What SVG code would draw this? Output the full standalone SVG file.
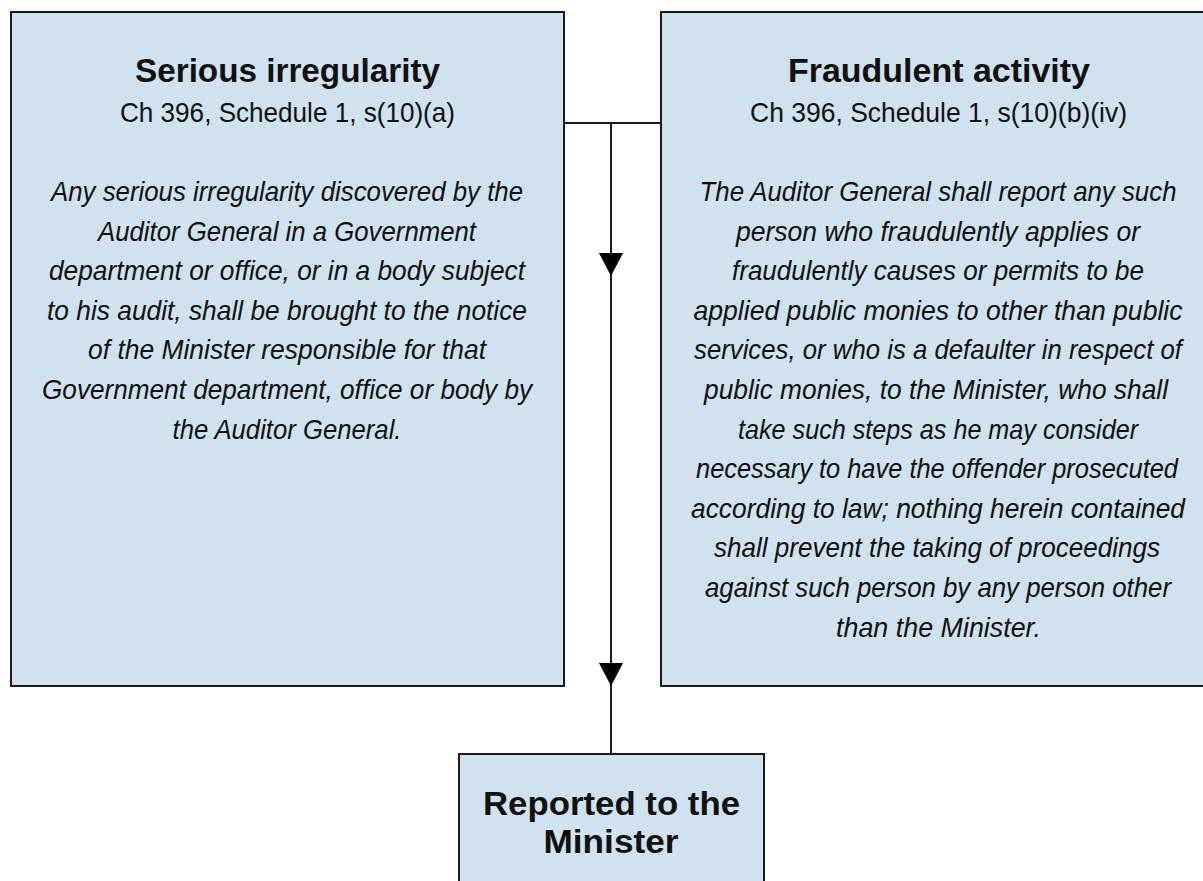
<svg xmlns="http://www.w3.org/2000/svg" width="1203" height="881" viewBox="0 0 1203 881">
<defs>
<style>
.box{fill:#cfe2ed;stroke:#1a1a1a;stroke-width:2}
.t{font-family:"Liberation Sans",Arial,sans-serif;font-weight:bold;font-size:34px;fill:#111;text-anchor:middle}
.s{font-family:"Liberation Sans",Arial,sans-serif;font-size:28px;fill:#111;text-anchor:middle}
.b{font-family:"Liberation Sans",Arial,sans-serif;font-style:italic;font-size:28px;fill:#111;text-anchor:middle}
.c{fill:none;stroke:#1a1a1a;stroke-width:2}
</style>
<marker id="arr" viewBox="0 0 23 24" refX="23" refY="12" markerWidth="23" markerHeight="24" markerUnits="userSpaceOnUse" orient="auto">
<path d="M0,0 L23,12 L0,24 z" fill="#000"/>
</marker>
</defs>
<rect width="1203" height="881" fill="#fff"/>
<g id="connectors">
<path class="c" d="M564,123 H661"/>
<path class="c" d="M611,123 V276" marker-end="url(#arr)"/>
<path class="c" d="M611,276 V686" marker-end="url(#arr)"/>
<path class="c" d="M611,686 V754"/>
</g>
<g id="serious-irregularity">
<rect class="box" x="11" y="12" width="553" height="674"/>
<text class="t" x="287.5" y="82" textLength="305" lengthAdjust="spacingAndGlyphs">Serious irregularity</text>
<text class="s" x="287.5" y="122" textLength="335" lengthAdjust="spacingAndGlyphs">Ch 396, Schedule 1, s(10)(a)</text>
<g transform="translate(287,0) scale(0.85,1)">
<text class="b" x="0" y="201" textLength="555.3" lengthAdjust="spacingAndGlyphs">Any serious irregularity discovered by the</text>
<text class="b" x="0" y="240.6" textLength="444.7" lengthAdjust="spacingAndGlyphs">Auditor General in a Government</text>
<text class="b" x="0" y="280.2" textLength="560" lengthAdjust="spacingAndGlyphs">department or office, or in a body subject</text>
<text class="b" x="0" y="319.8" textLength="564.7" lengthAdjust="spacingAndGlyphs">to his audit, shall be brought to the notice</text>
<text class="b" x="0" y="359.4" textLength="468.2" lengthAdjust="spacingAndGlyphs">of the Minister responsible for that</text>
<text class="b" x="0" y="399" textLength="576.5" lengthAdjust="spacingAndGlyphs">Government department, office or body by</text>
<text class="b" x="0" y="438.6" textLength="269.4" lengthAdjust="spacingAndGlyphs">the Auditor General.</text>
</g>
</g>
<g id="fraudulent-activity">
<rect class="box" x="661" y="12" width="543" height="674"/>
<text class="t" x="939" y="82" textLength="302" lengthAdjust="spacingAndGlyphs">Fraudulent activity</text>
<text class="s" x="938.5" y="122" textLength="377" lengthAdjust="spacingAndGlyphs">Ch 396, Schedule 1, s(10)(b)(iv)</text>
<g transform="translate(938,0) scale(0.85,1)">
<text class="b" x="0" y="201" textLength="561.2" lengthAdjust="spacingAndGlyphs">The Auditor General shall report any such</text>
<text class="b" x="0" y="240.6" textLength="475.3" lengthAdjust="spacingAndGlyphs">person who fraudulently applies or</text>
<text class="b" x="0" y="280.2" textLength="484.7" lengthAdjust="spacingAndGlyphs">fraudulently causes or permits to be</text>
<text class="b" x="0" y="319.8" textLength="575.3" lengthAdjust="spacingAndGlyphs">applied public monies to other than public</text>
<text class="b" x="0" y="359.4" textLength="574.1" lengthAdjust="spacingAndGlyphs">services, or who is a defaulter in respect of</text>
<text class="b" x="-2.35" y="399" textLength="545.9" lengthAdjust="spacingAndGlyphs">public monies, to the Minister, who shall</text>
<text class="b" x="0" y="438.6" textLength="470.6" lengthAdjust="spacingAndGlyphs">take such steps as he may consider</text>
<text class="b" x="-1.18" y="478.2" textLength="567.1" lengthAdjust="spacingAndGlyphs">necessary to have the offender prosecuted</text>
<text class="b" x="0" y="517.8" textLength="581.2" lengthAdjust="spacingAndGlyphs">according to law; nothing herein contained</text>
<text class="b" x="-1.18" y="557.4" textLength="524.7" lengthAdjust="spacingAndGlyphs">shall prevent the taking of proceedings</text>
<text class="b" x="0" y="597" textLength="548.2" lengthAdjust="spacingAndGlyphs">against such person by any person other</text>
<text class="b" x="0.59" y="636.6" textLength="241.2" lengthAdjust="spacingAndGlyphs">than the Minister.</text>
</g>
</g>
<g id="reported-to-minister">
<rect class="box" x="459" y="754" width="305" height="128"/>
<text class="t" x="611.5" y="815" textLength="257" lengthAdjust="spacingAndGlyphs">Reported to the</text>
<text class="t" x="611" y="853" textLength="135" lengthAdjust="spacingAndGlyphs">Minister</text>
</g>
</svg>
